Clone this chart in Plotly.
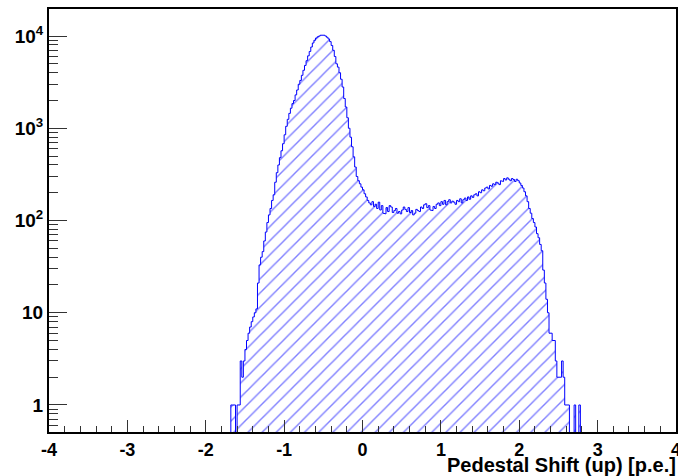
import numpy as np
import plotly.graph_objects as go

# ===== histogram contents (bin width 0.02) =====
bin_lo = -1.68
bin_w = 0.02

tail_left = [1, 1, 1, 0, 1, 1, 3, 2, 3, 4, 5, 6, 7, 8, 9, 10, 11, 21, 33, 40, 46, 60, 75, 95, 115, 135, 165, 190]
rise = [260, 330, 400, 480, 570, 680, 850, 1050, 1250, 1450, 1650, 1850, 2000, 2300, 2600, 3000, 3300,
        3750, 4250, 4800, 5400, 6100, 6800, 7600, 8400, 9000, 9500, 9800, 10000, 10200, 10300]
fall = [10200, 10000, 9700, 9300, 8700, 7900, 7000, 6000, 5000, 4600, 4000, 3400, 2800, 2100, 1700,
        1300, 1000, 800, 630, 490, 380, 300, 270, 250, 230, 215, 195, 180, 165, 155]
plateau = [148, 160, 142, 150, 135, 158, 130, 145, 120, 118, 138, 125, 145, 140, 122, 128, 135, 120, 125,
           118, 130, 140, 132, 125, 138, 122, 128, 115, 120, 132, 128, 125, 140, 135, 148, 152, 138, 145,
           130, 128, 142, 135, 150, 155, 145, 160, 150, 165, 148, 160, 168, 155, 162, 158, 150, 165, 160,
           172, 155, 168, 175, 165, 180, 170, 185, 178, 190, 195, 185, 205, 200, 215, 210, 225, 230, 220,
           240, 235, 250, 245, 260, 255, 245, 270, 265, 285, 275, 290, 280, 270, 285, 278, 265, 280, 270]
edge_right = [255, 240, 225, 205, 185, 160, 135, 120, 105, 95, 85, 72, 65, 55, 47, 29, 21, 14, 10, 6, 6,
              5, 5, 3, 2, 2, 2, 3, 2, 1, 1, 1, 0, 0, 0, 1, 0, 0, 1]

counts = tail_left + rise + fall + plateau + edge_right

x_ticks = [-4, -3, -2, -1, 0, 1, 2, 3, 4]
x_ticktext = ["-4", "-3", "-2", "-1", "0", "1", "2", "3", "4"]
y_ticks = [1, 10, 100, 1000, 10000]
y_ticktext = ["1", "10", "10<sup>2</sup>", "10<sup>3</sup>", "10<sup>4</sup>"]
y_minor = [0.6, 0.7, 0.8, 0.9] + [m * 10 ** d for d in range(4) for m in range(2, 10)]

# ===== build step outline =====
floor = 0.1
edges = bin_lo + bin_w * np.arange(len(counts) + 1)
xs = [edges[0]]
ys = [floor]
for i, c in enumerate(counts):
    v = c if c > 0 else floor
    xs += [edges[i], edges[i + 1]]
    ys += [v, v]
xs.append(edges[-1])
ys.append(floor)

fig = go.Figure()
fig.add_trace(go.Scatter(
    x=xs, y=ys, mode="lines",
    line=dict(color="#0000ff", width=1),
    fill="toself", fillcolor="rgba(0,0,0,0)",
    fillpattern=dict(shape="/", fgcolor="#0000ff", bgcolor="rgba(0,0,0,0)", size=10, solidity=0.14),
    hoverinfo="skip", showlegend=False,
))

main_font = "Liberation Sans, Arial, sans-serif"
fig.update_layout(
    width=678, height=476,
    margin=dict(l=49, r=2, t=9, b=44, autoexpand=False),
    paper_bgcolor="white", plot_bgcolor="white",
    font=dict(family=main_font, size=18, color="black", weight="bold"),
)
fig.update_xaxes(
    range=[-4, 4], automargin=False,
    tickmode="array", tickvals=x_ticks, ticktext=x_ticktext, ticklabeloverflow="allow",
    ticks="inside", ticklen=12, tickwidth=1, tickcolor="#333333",
    minor=dict(dtick=0.2, tick0=-4, ticks="inside", ticklen=6, tickwidth=1, tickcolor="#333333"),
    showline=True, linecolor="black", linewidth=2, mirror=True,
    showgrid=False, zeroline=False,
    tickfont=dict(family=main_font, size=18, weight="bold"),
)
fig.update_yaxes(
    type="log", range=[-0.293, 4.293], automargin=False,
    tickmode="array", tickvals=y_ticks, ticktext=y_ticktext,
    ticks="inside", ticklen=18, tickwidth=1, tickcolor="#333333",
    minor=dict(tickmode="array", tickvals=y_minor, ticks="inside", ticklen=9, tickwidth=1,
               tickcolor="#333333", showgrid=False),
    showline=True, linecolor="black", linewidth=2, mirror=True,
    showgrid=False, zeroline=False,
    tickfont=dict(family=main_font, size=19, weight="bold"),
)
fig.add_annotation(
    text="Pedestal Shift (up) [p.e.]", xref="paper", yref="paper",
    x=1.003, y=-0.079, xanchor="right", yanchor="middle", showarrow=False,
    font=dict(family=main_font, size=20, weight="bold", color="black"),
)

fig.write_html("out.html", config={"displayModeBar": False})

# drop the browser's default body margin so the figure sits at the page corner
with open("out.html") as f:
    page = f.read()
page = page.replace("<body>", '<body style="margin:0;overflow:hidden">', 1)
with open("out.html", "w") as f:
    f.write(page)
